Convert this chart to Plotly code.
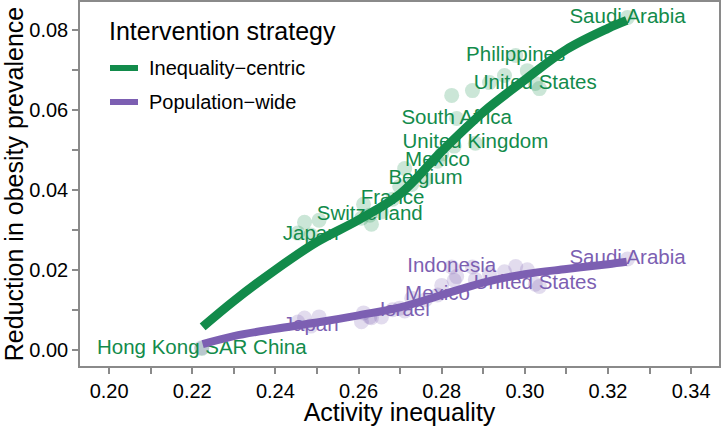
import plotly.graph_objects as go

# ---- data ----
country_x = [0.2223, 0.2454, 0.2470, 0.2485, 0.2505, 0.2607, 0.2612, 0.2627, 0.2631,
             0.2655, 0.2682, 0.2699, 0.2711, 0.2728, 0.2761, 0.2790, 0.2800, 0.2824,
             0.2830, 0.2836, 0.2881, 0.2874, 0.2915, 0.2951, 0.2978, 0.3006, 0.3025,
             0.3035, 0.3247]
green_y = [0.0003, 0.0292, 0.0319, 0.0287, 0.0324, 0.0329, 0.0364, 0.0337, 0.0314,
           0.0345, 0.0377, 0.0409, 0.0454, 0.0414, 0.0427, 0.0472, 0.0490, 0.0637,
           0.0510, 0.0579, 0.0517, 0.0649, 0.0669, 0.0687, 0.0737, 0.0699, 0.0667,
           0.0654, 0.0832]
purple_y = [0.0005, 0.0069, 0.0079, 0.0059, 0.0082, 0.0070, 0.0092, 0.0082, 0.0080,
            0.0082, 0.0100, 0.0104, 0.0097, 0.0129, 0.0125, 0.0137, 0.0161, 0.0207,
            0.0174, 0.0183, 0.0176, 0.0207, 0.0190, 0.0195, 0.0208, 0.0200, 0.0164,
            0.0158, 0.0227]
green_labels = ["Hong Kong SAR China", "", "", "Japan", "", "", "", "Switzerland", "",
                "", "France", "", "", "", "Belgium", "Mexico", "", "",
                "", "South Africa", "United Kingdom", "", "", "", "Philippines", "", "United States",
                "", "Saudi Arabia"]
purple_labels = ["", "", "", "Japan", "", "", "", "", "",
                 "", "", "", "Israel", "", "", "Mexico", "", "Indonesia",
                 "", "", "", "", "", "", "", "", "United States",
                 "", "Saudi Arabia"]

smooth_x = [0.2225, 0.23, 0.24, 0.25, 0.26, 0.27, 0.28, 0.29, 0.30, 0.31, 0.32, 0.3245]
green_smooth = [0.0057, 0.0122, 0.0200, 0.0270, 0.0325, 0.0390, 0.0497, 0.0595, 0.0676,
                0.0752, 0.0805, 0.0825]
purple_smooth = [0.0014, 0.0034, 0.0052, 0.0068, 0.0086, 0.0106, 0.0137, 0.0168, 0.0189,
                 0.0202, 0.0214, 0.0220]

x_ticks = [0.20, 0.22, 0.24, 0.26, 0.28, 0.30, 0.32, 0.34]
y_ticks = [0.00, 0.02, 0.04, 0.06, 0.08]

legend_title = "Intervention strategy"
strategy_names = ["Inequality−centric", "Population−wide"]

GREEN = "#128B4B"
PURPLE = "#7C5FB2"
AXIS = "#8a8a8a"
FONT = "Liberation Sans, Arial, sans-serif"

fig = go.Figure()

fig.add_trace(go.Scatter(x=country_x, y=green_y, mode="markers", showlegend=False,
                         marker=dict(size=15, color=GREEN, opacity=0.22, line=dict(width=0)),
                         hoverinfo="skip"))
fig.add_trace(go.Scatter(x=country_x, y=purple_y, mode="markers", showlegend=False,
                         marker=dict(size=15, color=PURPLE, opacity=0.22, line=dict(width=0)),
                         hoverinfo="skip"))
fig.add_trace(go.Scatter(x=country_x, y=green_y, mode="text", text=green_labels,
                         textposition="middle center", showlegend=False,
                         textfont=dict(size=20.5, color=GREEN, family=FONT)))
fig.add_trace(go.Scatter(x=country_x, y=purple_y, mode="text", text=purple_labels,
                         textposition="middle center", showlegend=False,
                         textfont=dict(size=20.5, color=PURPLE, family=FONT)))
fig.add_trace(go.Scatter(x=smooth_x, y=green_smooth, mode="lines", name=strategy_names[0],
                         showlegend=False, line=dict(color=GREEN, width=9, shape="spline")))
fig.add_trace(go.Scatter(x=smooth_x, y=purple_smooth, mode="lines", name=strategy_names[1],
                         showlegend=False, line=dict(color=PURPLE, width=8, shape="spline")))

axis_common = dict(showgrid=False, zeroline=False, showline=True, mirror=True,
                   linecolor=AXIS, linewidth=1.5, ticks="outside", ticklen=6,
                   tickcolor=AXIS, tickwidth=1.5, tickformat=".2f", automargin=False,
                   tickfont=dict(size=20, color="black", family=FONT))

fig.update_xaxes(range=[0.193, 0.3467], tickvals=x_ticks,
                 minor=dict(tickvals=[0.21, 0.23, 0.25, 0.27, 0.29, 0.31, 0.33],
                            ticks="outside", ticklen=6, tickcolor=AXIS, tickwidth=1.5,
                            showgrid=False),
                 title=dict(text="Activity inequality", font=dict(size=25, color="black", family=FONT),
                            standoff=4),
                 **axis_common)
fig.update_yaxes(range=[-0.0041, 0.0871], tickvals=y_ticks,
                 minor=dict(tickvals=[0.01, 0.03, 0.05, 0.07],
                            ticks="outside", ticklen=6, tickcolor=AXIS, tickwidth=1.5,
                            showgrid=False),
                 title=dict(text="Reduction in obesity prevalence",
                            font=dict(size=25, color="black", family=FONT), standoff=4),
                 **axis_common)

# manual legend (layout pixels: plot area x 80..719, y 2..366)
W, H, L, T = 721, 426, 80, 2
PW, PH = W - L - 2, H - T - 60


def px(xp):
    return (xp - L) / PW


def py(yp):
    return 1 - (yp - T) / PH


annotations = [dict(xref="paper", yref="paper", x=px(107), y=py(31), xanchor="left",
                    yanchor="middle", showarrow=False, text=legend_title,
                    font=dict(size=25, color="black", family=FONT))]
shapes = []
for name, col, yy in zip(strategy_names, [GREEN, PURPLE], [68, 102]):
    shapes.append(dict(type="line", xref="paper", yref="paper", x0=px(110), x1=px(138),
                       y0=py(yy), y1=py(yy), line=dict(color=col, width=6)))
    annotations.append(dict(xref="paper", yref="paper", x=px(147), y=py(yy), xanchor="left",
                            yanchor="middle", showarrow=False, text=name,
                            font=dict(size=20, color="black", family=FONT)))

fig.update_layout(
    width=W, height=H,
    margin=dict(l=L, r=2, t=T, b=60),
    paper_bgcolor="white", plot_bgcolor="white",
    font=dict(family=FONT, color="black"),
    showlegend=False,
    annotations=annotations,
    shapes=shapes,
)

fig.write_html("out.html", config={"displayModeBar": False},
               post_script="document.body.style.margin='0';document.body.style.overflow='hidden';")
